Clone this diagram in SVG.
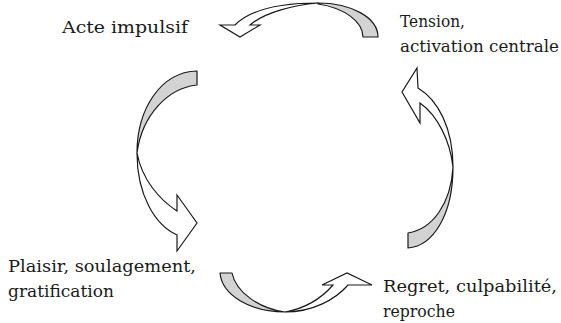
<svg xmlns="http://www.w3.org/2000/svg" width="561" height="323" viewBox="0 0 561 323">
<style>
.back{fill:#d3d3d3;stroke:#1a1a1a;stroke-width:1.2;stroke-linejoin:round}
.front{fill:#ffffff;stroke:#1a1a1a;stroke-width:1.2;stroke-linejoin:miter}
.lbl{font-family:"DejaVu Serif","Liberation Serif",serif;font-size:17px;fill:#1a1a1a}
</style>
<rect width="561" height="323" fill="#ffffff"/>
<g id="connectors">
<g id="arrow-top">
<path class="back" d="M318,3 C352,3 378,18 378,37 L363,37 C363,22 345,8 318,4 Z"/>
<path class="front" d="M220,25 L235,25 C250,10 280,3 318,3 C295,5 265,12 250,25 L260,25 L240,37 Z"/>
</g>
<g id="arrow-left">
<path class="back" d="M197,71 L197,85 C168,88 142,115 137,153 C137,110 160,72 197,71 Z"/>
<path class="front" d="M137,153 C137,195 155,225 177,235 L177,251 L197,223 L177,195 L177,211 C160,200 142,180 137,153 Z"/>
</g>
<g id="arrow-bottom">
<path class="back" d="M220,273 L232,273 C236,292 258,308 285,312 C250,312 222,295 220,273 Z"/>
<path class="front" d="M285,312 C312,312 335,300 348,285 L372,285 L347,273 L322,285 L333,285 C320,300 302,309 285,312 Z"/>
</g>
<g id="arrow-right">
<path class="back" d="M408,233 L408,248 C433,246 453,215 453,167 C451,203 433,229 408,233 Z"/>
<path class="front" d="M453,167 C453,128 438,100 418,88 L417,68 L402,92 L420,123 L420,103 C437,115 450,140 453,167 Z"/>
</g>
</g>
<g id="node-acte"><text class="lbl" x="62" y="33" textLength="126" lengthAdjust="spacingAndGlyphs">Acte impulsif</text></g>
<g id="node-tension"><text class="lbl" x="400" y="27" textLength="65" lengthAdjust="spacingAndGlyphs">Tension,</text><text class="lbl" x="400" y="52" textLength="159" lengthAdjust="spacingAndGlyphs">activation centrale</text></g>
<g id="node-plaisir"><text class="lbl" x="8" y="272" textLength="188" lengthAdjust="spacingAndGlyphs">Plaisir, soulagement,</text><text class="lbl" x="8" y="297" textLength="106" lengthAdjust="spacingAndGlyphs">gratification</text></g>
<g id="node-regret"><text class="lbl" x="383" y="292" textLength="174" lengthAdjust="spacingAndGlyphs">Regret, culpabilité,</text><text class="lbl" x="383" y="317" textLength="72" lengthAdjust="spacingAndGlyphs">reproche</text></g>
</svg>
